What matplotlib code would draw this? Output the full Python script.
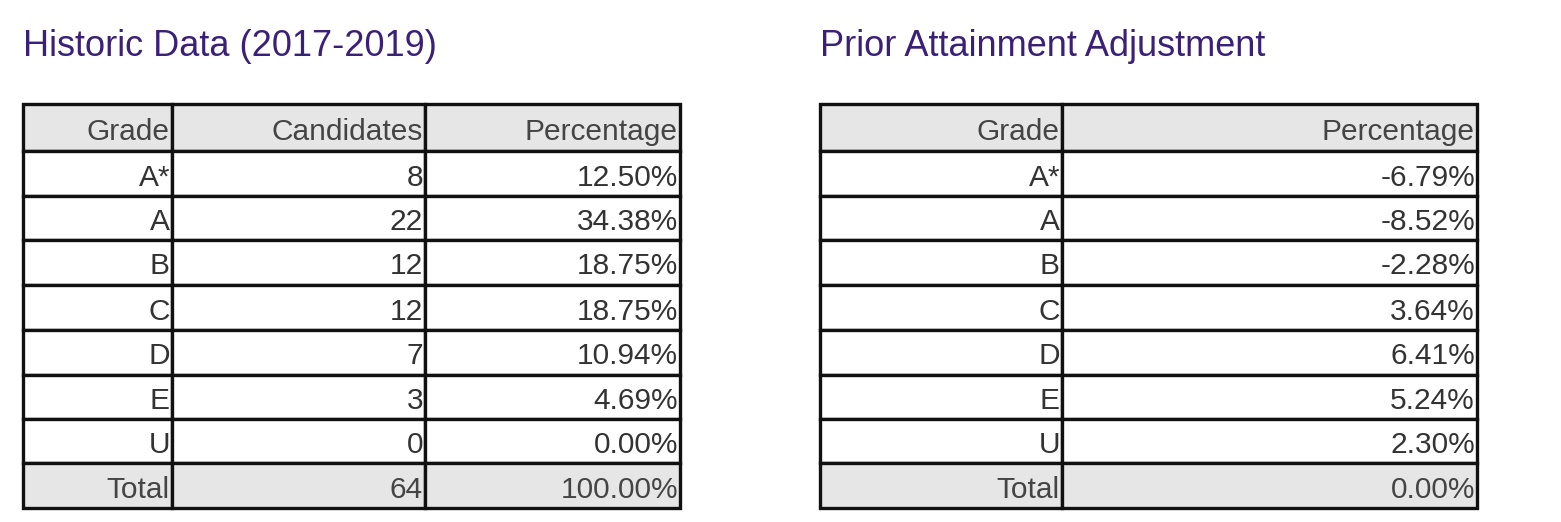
import matplotlib.pyplot as plt
from matplotlib.patches import Rectangle

plt.rcParams['font.family'] = ['Liberation Sans', 'DejaVu Sans']

grades = ["A*", "A", "B", "C", "D", "E", "U"]
candidates = [8, 22, 12, 12, 7, 3, 0]
hist_pct = ["12.50%", "34.38%", "18.75%", "18.75%", "10.94%", "4.69%", "0.00%"]
adj_pct = ["-6.79%", "-8.52%", "-2.28%", "3.64%", "6.41%", "5.24%", "2.30%"]

left_rows = [["Grade", "Candidates", "Percentage"]]
left_rows += [[g, str(c), p] for g, c, p in zip(grades, candidates, hist_pct)]
left_rows += [["Total", str(sum(candidates)), "100.00%"]]

right_rows = [["Grade", "Percentage"]]
right_rows += [[g, p] for g, p in zip(grades, adj_pct)]
right_rows += [["Total", "0.00%"]]

row_edges = [104, 151, 196, 240, 285, 330, 375, 419, 463, 508]
title_color = "#3b2078"


def draw_table(ax, title, col_edges, rows):
    ax.text(col_edges[0], 47, title, fontsize=26, color=title_color,
            ha="left", va="center")
    n = len(rows)
    for r, row in enumerate(rows):
        y0, y1 = row_edges[r], row_edges[r + 1]
        shaded = r == 0 or r == n - 1
        for c, txt in enumerate(row):
            x0, x1 = col_edges[c], col_edges[c + 1]
            ax.add_patch(Rectangle((x0, y0), x1 - x0, y1 - y0,
                                   facecolor="#e6e6e6" if shaded else "white",
                                   edgecolor="#111111", linewidth=2.4))
            ax.text(x1 - 2, (y0 + y1) / 2 + 4, txt, fontsize=21.5,
                    color="#444444" if shaded else "#333333",
                    ha="right", va="center")


fig = plt.figure(figsize=(15.61, 5.22), dpi=100)
ax = fig.add_axes([0, 0, 1, 1])
ax.set_xlim(0, 1561)
ax.set_ylim(522, 0)
ax.axis("off")

draw_table(ax, "Historic Data (2017-2019)", [23, 172, 425, 680], left_rows)
draw_table(ax, "Prior Attainment Adjustment", [820, 1062, 1477], right_rows)

fig.savefig("out.png", dpi=100, facecolor="white")
